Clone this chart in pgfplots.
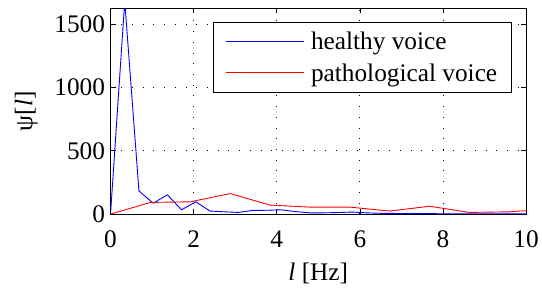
\documentclass[border=0pt]{standalone}
\usepackage{fontspec}
\setmainfont{Liberation Serif}
\usepackage{pgfplots}
\pgfplotsset{compat=1.18}
\begin{document}
\begin{tikzpicture}[font=\fontsize{25.5}{30}\selectfont]
\begin{axis}[
  at={(0,0)}, anchor=south west,
  scale only axis,
  width=417.3bp, height=206.7bp,
  xmin=0, xmax=10, ymin=0, ymax=1625,
  xtick={0,2,4,6,8,10},
  ytick={0,500,1000,1500},
  /pgf/number format/assume math mode=true,
  scaled y ticks=false,
  yticklabel style={/pgf/number format/1000 sep={}, xshift=-2bp},
  xticklabel style={yshift=-13bp},
  tick align=inside,
  major tick length=5bp,
  xtick pos=both, ytick pos=both,
  axis line style={line width=0.9pt},
  tick style={line width=0.6pt, black},
  grid=major,
  major grid style={black, line width=0.7pt, dash pattern=on 0.8pt off 10pt},
  xlabel={\textit{l} [Hz]},
  ylabel={ψ[\textit{l}]},
  xlabel style={yshift=-9bp},
  ylabel style={yshift=10bp},
  legend style={at={(0.965,0.935)}, anchor=north east, draw=black, line width=0.8pt,
    inner xsep=12bp, inner ysep=7.5bp, row sep=9bp,
    font=\fontsize{25.5}{30}\selectfont,
    /tikz/every odd column/.append style={column sep=5bp}},
  legend cell align=left,
  legend image code/.code={\draw[#1, line width=1pt] (0bp,0bp) -- (78bp,0bp);},
]
\addplot[color=blue, line width=0.9pt] coordinates {
(0,0) (0.342,1680) (0.684,183) (1.026,86) (1.368,152) (1.71,34) (2.052,97)
(2.394,24) (2.736,18) (3.078,13) (3.42,29) (3.762,30) (4.104,34) (4.446,20)
(4.788,10) (5.13,10) (5.472,12) (5.814,16) (6.156,10) (6.498,6) (6.84,5)
(7.182,4) (7.524,5) (7.866,3) (8.208,3) (8.55,3) (8.892,3) (9.234,3)
(9.576,3) (9.918,3) (10.26,3)};
\addlegendentry{healthy voice}
\addplot[color=red, line width=0.9pt] coordinates {
(0,0) (0.96,92) (1.92,97) (2.88,162) (3.84,71) (4.8,55) (5.76,55)
(6.72,24) (7.68,62) (8.64,13) (9.6,18) (10.56,40)};
\addlegendentry{pathological voice}
\end{axis}
\path (-111bp,-69bp) rectangle (430.9bp,215bp);
\end{tikzpicture}
\end{document}
